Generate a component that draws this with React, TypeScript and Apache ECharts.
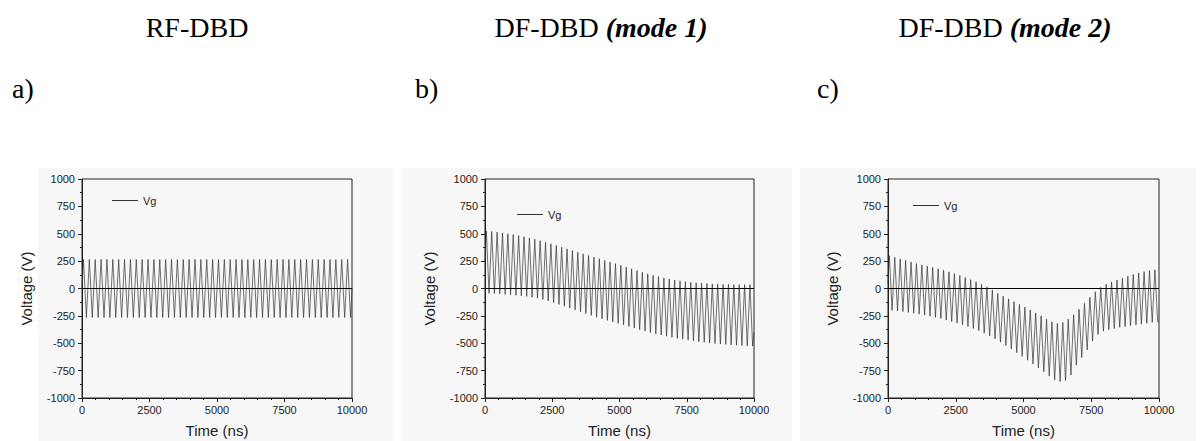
import React, { useEffect, useRef } from "react";
import * as echarts from "echarts";

// Panel titles
const panelTitles = ["RF-DBD", "DF-DBD ", "DF-DBD "];
const panelModes = ["", "(mode 1)", "(mode 2)"];
const panelLetters = ["a)", "b)", "c)"];
const seriesName = "Vg";

// Axis ticks
const xTicks = [0, 2500, 5000, 7500, 10000];
const yTicks = [-1000, -750, -500, -250, 0, 250, 500, 750, 1000];

// Panel a (RF-DBD): positive / negative peak voltage of each cycle (V)
const upperA = [
  265, 265, 265, 265, 265, 265, 265, 265, 265, 265, 265, 265, 265, 265, 265, 265,
  265, 265, 265, 265, 265, 265, 265, 265, 265, 265, 265, 265, 265, 265, 265, 265,
  265, 265, 265, 265, 265, 265, 265, 265, 265, 265, 265, 265, 265, 265,
];
const lowerA = [
  -265, -265, -265, -265, -265, -265, -265, -265, -265, -265, -265, -265, -265, -265, -265, -265,
  -265, -265, -265, -265, -265, -265, -265, -265, -265, -265, -265, -265, -265, -265, -265, -265,
  -265, -265, -265, -265, -265, -265, -265, -265, -265, -265, -265, -265, -265, -265,
];
const endsA = [0, 0];

// Panel b (DF-DBD mode 1)
const upperB = [
  525, 520, 515, 508, 500, 492, 483, 473, 462, 450,
  437, 423, 408, 393, 378, 362, 347, 332, 317, 302,
  287, 272, 257, 242, 227, 212, 196, 180, 164, 148,
  133, 120, 108, 97, 87, 78, 70, 63, 57, 52,
  48, 45, 42, 40, 38, 37, 36, 35, 35, 35,
];
const lowerB = [
  -44, -46, -49, -53, -57, -62, -67, -73, -80, -88,
  -100, -114, -129, -145, -161, -178, -195, -212, -229, -246,
  -262, -277, -291, -305, -319, -333, -347, -361, -375, -389,
  -402, -414, -425, -436, -446, -455, -463, -471, -478, -485,
  -491, -497, -502, -507, -511, -515, -518, -521, -524, -526,
];
const endsB = [240, -400];

// Panel c (DF-DBD mode 2)
const upperC = [
  300, 285, 270, 256, 242, 228, 216, 204, 192, 180,
  167, 152, 136, 119, 101, 82, 62, 40, 15, -14,
  -44, -70, -95, -120, -145, -170, -196, -223, -250, -280,
  -305, -318, -310, -280, -240, -190, -135, -80, -30, 10,
  38, 60, 78, 95, 112, 128, 142, 154, 164, 172,
];
const lowerC = [
  -200, -205, -211, -218, -226, -234, -243, -253, -263, -274,
  -287, -301, -316, -332, -348, -366, -385, -407, -432, -460,
  -490, -520, -552, -586, -620, -655, -690, -725, -760, -800,
  -835, -850, -840, -790, -700, -630, -560, -480, -420, -390,
  -375, -365, -355, -347, -340, -333, -325, -318, -310, -303,
];
const endsC = [50, -300];

const T_MAX = 10000;

function buildWave(upper: number[], lower: number[], ends: number[]) {
  const n = upper.length;
  const P = T_MAX / n;
  const pts: number[][] = [[0, ends[0]]];
  for (let k = 0; k < n; k++) {
    pts.push([(k + 0.25) * P, upper[k]]);
    pts.push([(k + 0.75) * P, lower[k]]);
  }
  pts.push([T_MAX, ends[1]]);
  return pts;
}

const waves = [
  buildWave(upperA, lowerA, endsA),
  buildWave(upperB, lowerB, endsB),
  buildWave(upperC, lowerC, endsC),
];

const grids = [
  { left: 82, width: 270 },
  { left: 485, width: 269 },
  { left: 888, width: 271 },
];
const legendPos = [
  { left: 107, top: 190 },
  { left: 512, top: 204 },
  { left: 908, top: 195 },
];
const titleCenters = [197, 601, 1005];
const letterLefts = [12, 415, 817];

const SANS = "Liberation Sans, Arial, sans-serif";
const SERIF = "Liberation Serif, Times New Roman, serif";

export default function App() {
  const ref = useRef<HTMLDivElement>(null);
  useEffect(() => {
    if (!ref.current) return;
    const chart = echarts.init(ref.current, undefined, { renderer: "svg" });
    const option: any = {
      animation: false,
      backgroundColor: "#ffffff",
      grid: grids.map((g) => ({
        left: g.left,
        width: g.width,
        top: 179,
        height: 219,
        show: true,
        borderColor: "#222",
        borderWidth: 1,
        backgroundColor: "transparent",
      })),
      legend: legendPos.map((p) => ({
        show: true,
        data: [seriesName],
        left: p.left,
        top: p.top,
        icon: "rect",
        itemWidth: 26,
        itemHeight: 1,
        selectedMode: false,
        textStyle: { fontFamily: SANS, fontSize: 11, color: "#222" },
      })),
      xAxis: grids.map((_, i) => ({
        gridIndex: i,
        type: "value",
        min: xTicks[0],
        max: xTicks[xTicks.length - 1],
        interval: xTicks[1] - xTicks[0],
        name: "Time (ns)",
        nameLocation: "middle",
        nameGap: 25,
        nameTextStyle: { fontFamily: SANS, fontSize: 15, color: "#222" },
        axisLine: { show: true, onZero: false, lineStyle: { color: "#222", width: 1 } },
        axisTick: { show: true, inside: false, length: 4, lineStyle: { color: "#222" } },
        minorTick: { show: true, splitNumber: 5, length: 2, lineStyle: { color: "#222" } },
        axisLabel: {
          fontFamily: SANS,
          fontSize: 11,
          color: "#222",
          margin: 6,
          formatter: (v: number) => String(v),
        },
        splitLine: { show: false },
      })),
      yAxis: grids.map((_, i) => ({
        gridIndex: i,
        type: "value",
        min: yTicks[0],
        max: yTicks[yTicks.length - 1],
        interval: yTicks[1] - yTicks[0],
        name: "Voltage (V)",
        nameLocation: "middle",
        nameGap: 48,
        nameTextStyle: { fontFamily: SANS, fontSize: 15, color: "#222" },
        axisLine: { show: true, onZero: false, lineStyle: { color: "#222", width: 1 } },
        axisTick: { show: true, inside: false, length: 4, lineStyle: { color: "#222" } },
        minorTick: { show: true, splitNumber: 2, length: 2, lineStyle: { color: "#222" } },
        axisLabel: {
          fontFamily: SANS,
          fontSize: 11,
          color: "#222",
          margin: 7,
          formatter: (v: number) => String(v),
        },
        splitLine: { show: false },
      })),
      series: waves.map((w, i) => ({
        name: seriesName,
        type: "line",
        xAxisIndex: i,
        yAxisIndex: i,
        data: w,
        symbol: "none",
        lineStyle: { color: "#333", width: 0.7 },
        itemStyle: { color: "#333" },
        markLine: {
          silent: true,
          symbol: "none",
          label: { show: false },
          lineStyle: { color: "#000", width: 1, type: "solid" },
          data: [{ yAxis: 0 }],
        },
      })),
      graphic: [
        { type: "rect", shape: { x: 38, y: 168, width: 355, height: 273 }, style: { fill: "#f7f7f7" }, z: -10 },
        { type: "rect", shape: { x: 402, y: 168, width: 390, height: 273 }, style: { fill: "#f7f7f7" }, z: -10 },
        { type: "rect", shape: { x: 800, y: 168, width: 396, height: 273 }, style: { fill: "#f7f7f7" }, z: -10 },
        ...titleCenters.map((cx, i) => ({
          type: "text",
          x: cx,
          y: 27,
          style: {
            text: panelModes[i] ? `{n|${panelTitles[i]}}{b|${panelModes[i]}}` : `{n|${panelTitles[i]}}`,
            align: "center",
            verticalAlign: "middle",
            rich: {
              n: { fontFamily: SERIF, fontSize: 28, fill: "#000", fontStyle: "normal" },
              b: { fontFamily: SERIF, fontSize: 28, fill: "#000", fontStyle: "italic", fontWeight: "bold" },
            },
          },
        })),
        ...letterLefts.map((lx, i) => ({
          type: "text",
          x: lx,
          y: 88,
          style: {
            text: panelLetters[i],
            align: "left",
            verticalAlign: "middle",
            fontFamily: SERIF,
            fontSize: 28,
            fill: "#000",
          },
        })),
      ],
    };
    chart.setOption(option);
    return () => chart.dispose();
  }, []);
  return (
    <div
      ref={ref}
      style={{ position: "absolute", left: 0, top: 0, width: 1203, height: 441 }}
    />
  );
}
